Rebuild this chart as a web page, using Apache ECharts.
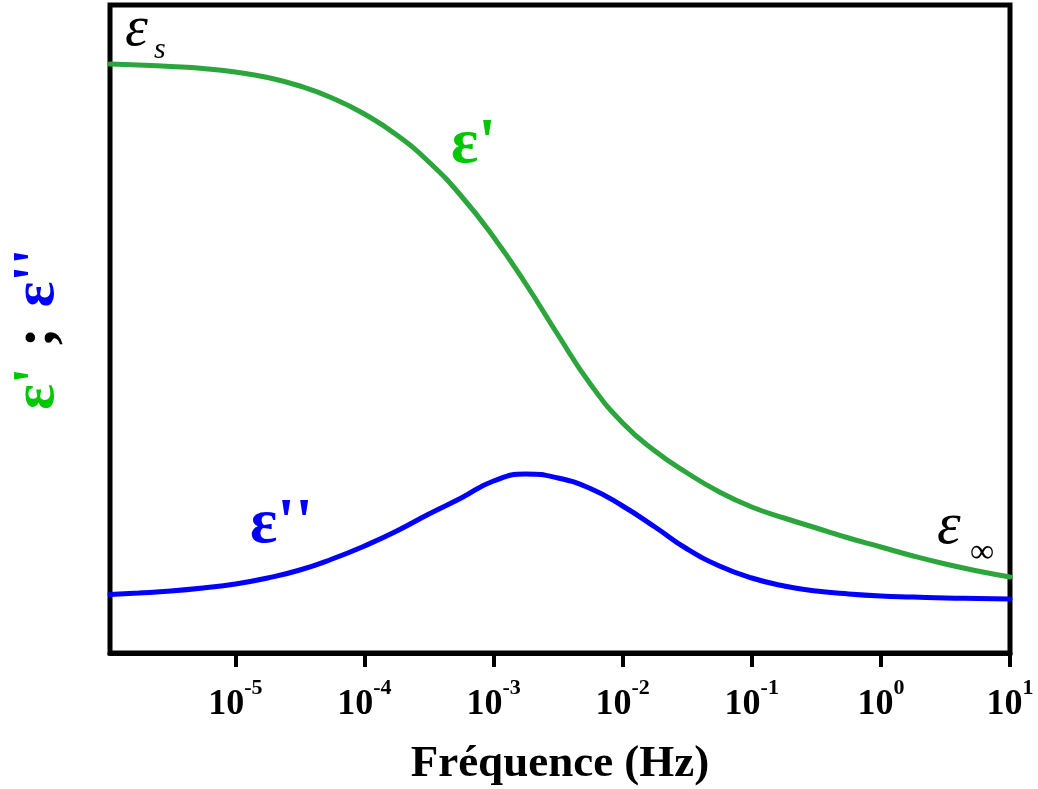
<!DOCTYPE html>
<html><head><meta charset="utf-8">
<script src="https://cdn.jsdelivr.net/npm/echarts@6/dist/echarts.min.js"></script>
<style>html,body{margin:0;padding:0;background:#fff}#c{width:1038px;height:789px}</style>
</head><body><div id="c"></div>
<script>
// Frequencies (Hz), quarter-decade steps
const frequencies = [1.07e-6, 1.78e-6, 3.16e-6, 5.62e-6, 1e-5, 1.78e-5, 3.16e-5, 5.62e-5,
  1e-4, 1.78e-4, 3.16e-4, 5.62e-4, 1e-3, 1.78e-3, 3.16e-3, 5.62e-3,
  1e-2, 1.78e-2, 3.16e-2, 5.62e-2, 0.1, 0.178, 0.316, 0.562, 1, 1.78, 3.16, 5.62, 10];
// epsilon' (arbitrary units)
const epsPrime = [589, 588, 586.5, 584.5, 581, 575.5, 567, 555, 539, 518, 491, 457, 416, 369, 318, 269,
  230, 202, 180, 161, 146, 135, 125, 115, 106, 97, 89, 82, 76];
// epsilon'' (arbitrary units)
const epsSecond = [58.5, 60, 62, 65, 69, 75, 83, 94, 107, 122, 139, 155, 172, 179, 175, 164.5,
  147, 126, 104, 87, 75, 67, 62, 59, 57, 56, 55, 54.5, 54];
const tickValues = [1e-5, 1e-4, 1e-3, 1e-2, 1e-1, 1, 10];
const tickExponents = ['-5', '-4', '-3', '-2', '-1', '0', '1'];

const FONT = "'Liberation Serif', 'Times New Roman', serif";
const chart = echarts.init(document.getElementById('c'), null, {renderer: 'canvas'});

function fmt(v) {
  const idx = tickValues.findIndex(t => Math.abs(Math.log10(t) - Math.log10(v)) < 1e-6);
  if (idx < 0) return '';
  return '{b|10}{s|' + tickExponents[idx] + '}';
}

chart.setOption({
  backgroundColor: '#fff',
  animation: false,
  grid: {left: 110, right: 28, top: 5, bottom: 136, show: true, borderColor: '#000', borderWidth: 5,
         containLabel: false, outerBoundsMode: 'none'},
  xAxis: {
    type: 'log', logBase: 10, min: 1.07e-6, max: 10,
    name: 'Fréquence (Hz)', nameLocation: 'middle', nameGap: 89,
    nameTextStyle: {fontFamily: FONT, fontWeight: 'bold', fontSize: 45, color: '#000'},
    axisLine: {show: true, lineStyle: {color: '#000', width: 5}},
    axisTick: {show: true, inside: false, length: 14, lineStyle: {color: '#000', width: 4}, customValues: tickValues},
    axisLabel: {
      show: true, margin: 24, customValues: tickValues, formatter: fmt,
      rich: {
        b: {fontFamily: FONT, fontWeight: 'bold', fontSize: 36, color: '#000', lineHeight: 56},
        s: {fontFamily: FONT, fontWeight: 'bold', fontSize: 22, color: '#000', verticalAlign: 'top', lineHeight: 22}
      }
    },
    splitLine: {show: false}, minorTick: {show: false}
  },
  yAxis: {
    type: 'value', min: 0, max: 648,
    name: "{g|ε'}{k|;}{b|ε''}", nameLocation: 'middle', nameRotate: 90, nameGap: 43,
    nameTextStyle: {
      rich: {
        g: {fontFamily: FONT, fontWeight: 'bold', fontSize: 60, color: '#00c800'},
        k: {fontFamily: FONT, fontWeight: 'bold', fontSize: 60, color: '#000', padding: [0, 20, 0, 20]},
        b: {fontFamily: FONT, fontWeight: 'bold', fontSize: 60, color: '#0000ff'}
      }
    },
    axisLine: {show: false}, axisTick: {show: false}, axisLabel: {show: false}, splitLine: {show: false}
  },
  series: [
    {type: 'line', name: "ε'", smooth: 0.5, symbol: 'none',
     lineStyle: {color: '#2ca53c', width: 5, cap: 'round'},
     data: frequencies.map((f, i) => [f, epsPrime[i]])},
    {type: 'line', name: "ε''", smooth: 0.5, symbol: 'none',
     lineStyle: {color: '#0000ff', width: 5, cap: 'round'},
     data: frequencies.map((f, i) => [f, epsSecond[i]])}
  ],
  graphic: [
    {type: 'text', left: 451, top: 113, z: 10, style: {text: "ε'", fontFamily: FONT, fontWeight: 'bold', fontSize: 64, fill: '#00c800'}},
    {type: 'text', left: 250, top: 493, z: 10, style: {text: "ε''", fontFamily: FONT, fontWeight: 'bold', fontSize: 64, fill: '#0000ff'}},
    {type: 'text', left: 125, top: 1, z: 10, style: {text: 'ε', fontFamily: FONT, fontStyle: 'italic', fontSize: 58, fill: '#000'}},
    {type: 'text', left: 154, top: 35, z: 10, style: {text: 's', fontFamily: FONT, fontStyle: 'italic', fontSize: 30, fill: '#000'}},
    {type: 'text', left: 937, top: 497, z: 10, style: {text: 'ε', fontFamily: FONT, fontStyle: 'italic', fontSize: 60, fill: '#000'}},
    {type: 'text', left: 970, top: 536, z: 10, style: {text: '∞', fontFamily: FONT, fontSize: 34, fill: '#000'}}
  ]
});
</script></body></html>
